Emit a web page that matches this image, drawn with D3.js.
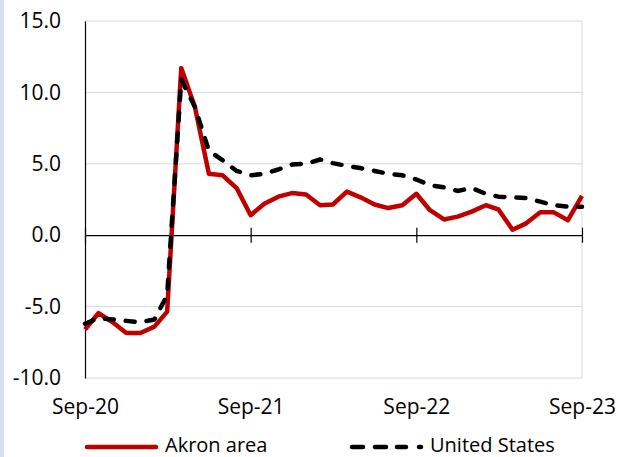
<!DOCTYPE html>
<html>
<head>
<meta charset="utf-8">
<script src="https://cdn.jsdelivr.net/npm/d3@7/dist/d3.min.js"></script>
<style>
  html, body { margin: 0; padding: 0; background: #fff; }
  svg { display: block; }
  text { font-family: "Open Sans", "Noto Sans", sans-serif; fill: #000; }
</style>
</head>
<body>
<svg id="chart" width="618" height="457"></svg>
<script>
// Monthly series, Sep-2020 through Sep-2023 (year-over-year % change)
const months = d3.range(37).map(i => new Date(2020, 8 + i, 1));
const akron = [-6.6, -5.45, -6.1, -6.85, -6.85, -6.4, -5.35, 11.7, 9.0, 4.3, 4.2, 3.3,
  1.4, 2.2, 2.7, 2.95, 2.85, 2.1, 2.15, 3.05, 2.65, 2.15, 1.9, 2.1,
  2.9, 1.75, 1.1, 1.3, 1.65, 2.1, 1.8, 0.38, 0.83, 1.6, 1.6, 1.05, 2.75];
const us = [-6.2, -5.8, -5.9, -6.0, -6.1, -5.9, -4.2, 10.9, 9.0, 5.9, 5.25, 4.5,
  4.2, 4.3, 4.6, 4.95, 5.0, 5.3, 5.05, 4.85, 4.7, 4.5, 4.3, 4.2,
  3.9, 3.5, 3.35, 3.1, 3.3, 2.9, 2.7, 2.65, 2.6, 2.35, 2.1, 2.0, 2.0];
const yTicks = [-10, -5, 0, 5, 10, 15];
const xTicks = [new Date(2020, 8, 1), new Date(2021, 8, 1), new Date(2022, 8, 1), new Date(2023, 8, 1)];
const xTickLabels = ["Sep-20", "Sep-21", "Sep-22", "Sep-23"];
const seriesNames = ["Akron area", "United States"];

const W = 618, H = 457;
const m = { left: 85, right: 36, top: 21, bottom: 79 };
const svg = d3.select("#chart");

// thin pale-blue strip down the left edge
svg.append("rect").attr("x", 0).attr("y", 0).attr("width", 4).attr("height", H).attr("fill", "#d5e0f4");

const x = d3.scaleTime().domain([months[0], months[months.length - 1]]).range([m.left, W - m.right]);
const y = d3.scaleLinear().domain([-10, 15]).range([H - m.bottom, m.top]);

// horizontal gridlines
svg.append("g").selectAll("line").data(yTicks.filter(d => d !== 0)).join("line")
  .attr("x1", m.left).attr("x2", W - m.right)
  .attr("y1", d => y(d)).attr("y2", d => y(d))
  .attr("stroke", "#d9d9d9").attr("stroke-width", 1);

// right border of the plot area
svg.append("line").attr("x1", W - m.right).attr("x2", W - m.right)
  .attr("y1", m.top).attr("y2", H - m.bottom)
  .attr("stroke", "#d9d9d9").attr("stroke-width", 1);

// y axis
const yAxis = svg.append("g").attr("transform", `translate(${m.left},0)`)
  .call(d3.axisLeft(y).tickValues(yTicks).tickFormat(d => d.toFixed(1)).tickSize(0).tickPadding(24));
yAxis.select(".domain").attr("stroke", "#000").attr("stroke-width", 1.2);
yAxis.selectAll("text").attr("font-size", 21).attr("font-family", null);

// x axis along zero, ticks crossing the line
const tk = 7.5;
const xAxis = svg.append("g").attr("transform", `translate(0,${y(0)})`)
  .call(d3.axisBottom(x).tickValues(xTicks).tickFormat((d, i) => xTickLabels[i]).tickSizeInner(tk).tickSizeOuter(0));
xAxis.select(".domain").attr("stroke", "#000").attr("stroke-width", 1.2);
xAxis.selectAll(".tick line").attr("y1", -tk).attr("y2", tk).attr("stroke", "#000").attr("stroke-width", 1.2);
xAxis.selectAll(".tick text")
  .attr("font-size", 21).attr("font-family", null)
  .attr("y", (y(-10) - y(0)) + 21).attr("dy", "0.71em");

// series lines
const line = d3.line().x((d, i) => x(months[i])).y(d => y(d));
svg.append("path").datum(akron).attr("d", line)
  .attr("fill", "none").attr("stroke", "#c00000").attr("stroke-width", 4.5)
  .attr("stroke-linejoin", "round");
svg.append("path").datum(us).attr("d", line)
  .attr("fill", "none").attr("stroke", "#000").attr("stroke-width", 4.5)
  .attr("stroke-dasharray", "9,12").attr("stroke-linecap", "round").attr("stroke-linejoin", "round");

// legend
const ly = 447;
const lg = svg.append("g");
lg.append("line").attr("x1", 87).attr("x2", 156).attr("y1", ly).attr("y2", ly)
  .attr("stroke", "#c00000").attr("stroke-width", 4.5).attr("stroke-linecap", "round");
lg.append("text").attr("x", 165).attr("y", ly - 2).attr("dy", "0.36em").attr("font-size", 20).text(seriesNames[0]);
lg.append("line").attr("x1", 352).attr("x2", 421).attr("y1", ly).attr("y2", ly)
  .attr("stroke", "#000").attr("stroke-width", 4.5).attr("stroke-linecap", "round")
  .attr("stroke-dasharray", "11,12,11,11,9,13,2,100");
lg.append("text").attr("x", 430).attr("y", ly - 2).attr("dy", "0.36em").attr("font-size", 20).text(seriesNames[1]);
</script>
</body>
</html>
